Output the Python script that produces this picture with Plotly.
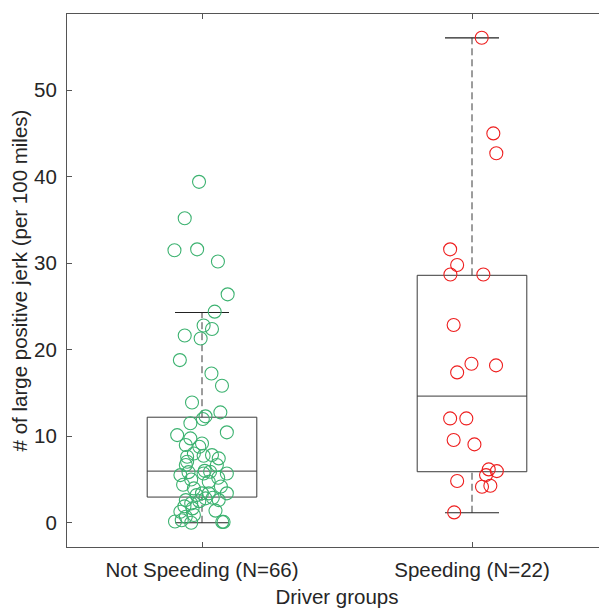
import plotly.graph_objects as go

# ---- data ----
groups = ["Not Speeding (N=66)", "Speeding (N=22)"]
group_pos = [1, 2]

# box statistics
q1 = [2.97, 5.9]
median = [5.97, 14.64]
q3 = [12.2, 28.6]
lower_whisker = [0.0, 1.16]
upper_whisker = [24.3, 56.05]

# Not Speeding: x position (jittered) and value
ns_x = [0.989, 0.936, 0.898, 0.982, 1.059, 1.095, 1.047, 1.006, 1.037, 0.936,
        0.995, 0.918, 1.035, 1.074, 0.963, 1.068, 1.013,
        1.003, 0.957, 1.092, 0.908, 0.957, 1.000, 0.940, 0.990, 0.945, 1.006,
        1.037, 1.062, 0.970, 0.945, 0.940, 1.055,
        0.920, 1.006, 1.030, 1.092, 1.025, 0.970, 1.000, 1.092, 1.025, 0.960,
        1.060, 0.930, 1.010, 0.950, 1.070, 0.980,
        0.940, 0.960, 1.062, 0.920, 0.940, 0.960, 1.075, 0.925, 1.013, 0.965,
        1.080, 0.990, 1.040, 0.935, 0.970, 1.050, 0.900]
ns_y = [39.4, 35.2, 31.5, 31.6, 30.2, 26.4, 24.4, 22.8, 22.4, 21.65,
        21.3, 18.8, 17.26, 15.83, 13.9, 12.76, 12.3,
        12.0, 11.5, 10.45, 10.13, 9.75, 9.17, 8.98, 8.78, 7.63, 7.74,
        7.82, 7.44, 8.0, 7.05, 6.67, 6.67,
        5.51, 5.7, 5.9, 5.7, 4.74, 3.97, 3.4, 3.4, 3.4, 5.0,
        5.2, 4.4, 6.0, 5.85, 4.2, 3.2,
        2.62, 2.24, 2.62, 1.27, 0.69, 0.0, 0.1, 0.3, 2.82, 1.66,
        0.1, 2.5, 2.9, 1.9, 0.9, 1.4, 0.15]

# Speeding
sp_x = [2.036, 2.079, 2.090, 1.919, 1.945, 1.920, 2.042, 1.932, 1.998, 1.945,
        2.089, 1.919, 1.979, 1.932, 2.009, 2.062, 2.092, 2.052, 1.945, 2.068,
        2.037, 1.934]
sp_y = [56.05, 45.0, 42.7, 31.6, 29.8, 28.7, 28.7, 22.85, 18.37, 17.38,
        18.19, 12.06, 12.06, 9.56, 9.06, 6.17, 5.97, 5.51, 4.82, 4.28,
        4.16, 1.2]

point_colors = ["rgb(60,178,112)", "rgb(238,30,30)"]
box_half = 0.203
cap_half = 0.1

fig = go.Figure()

box_color = "#3a3a3a"
for i, xc in enumerate(group_pos):
    # box outline
    fig.add_trace(go.Scatter(
        x=[xc - box_half, xc + box_half, xc + box_half, xc - box_half, xc - box_half],
        y=[q1[i], q1[i], q3[i], q3[i], q1[i]],
        mode="lines", line=dict(color=box_color, width=1), hoverinfo="skip", showlegend=False))
    # median
    fig.add_trace(go.Scatter(
        x=[xc - box_half, xc + box_half], y=[median[i], median[i]],
        mode="lines", line=dict(color=box_color, width=1), hoverinfo="skip", showlegend=False))
    # whiskers (dashed)
    fig.add_trace(go.Scatter(
        x=[xc, xc], y=[q3[i], upper_whisker[i]],
        mode="lines", line=dict(color=box_color, width=1, dash="7px,4px"), hoverinfo="skip", showlegend=False))
    fig.add_trace(go.Scatter(
        x=[xc, xc], y=[lower_whisker[i], q1[i]],
        mode="lines", line=dict(color=box_color, width=1, dash="7px,4px"), hoverinfo="skip", showlegend=False))
    # caps
    for v in (upper_whisker[i], lower_whisker[i]):
        fig.add_trace(go.Scatter(
            x=[xc - cap_half, xc + cap_half], y=[v, v],
            mode="lines", line=dict(color="#222222", width=1.2), hoverinfo="skip", showlegend=False))

for xs, ys, col in ((ns_x, ns_y, point_colors[0]), (sp_x, sp_y, point_colors[1])):
    fig.add_trace(go.Scatter(
        x=xs, y=ys, mode="markers",
        marker=dict(symbol="circle-open", size=13, color=col, line=dict(width=1.1, color=col)),
        showlegend=False))

font = "Liberation Sans, Arial, Helvetica, sans-serif"
fs = 20.5
# the page body adds an 8px margin, so the figure is 8px smaller than the window
fig.update_layout(
    width=599, height=601,
    margin=dict(l=59, r=0, t=6, b=62),
    paper_bgcolor="white", plot_bgcolor="white",
    font=dict(family=font, size=fs, color="#262626"),
    showlegend=False,
)
fig.update_xaxes(
    range=[0.5, 2.5], tickvals=group_pos, ticktext=groups,
    ticks="inside", ticklen=5, tickcolor="#555", mirror="ticks",
    showline=True, linecolor="#555", linewidth=1, showgrid=False, zeroline=False,
    title=dict(text="Driver groups", standoff=10, font=dict(size=fs)),
    tickfont=dict(size=fs), ticklabelstandoff=4,
)
fig.update_yaxes(
    range=[-2.8, 58.8], tickvals=[0, 10, 20, 30, 40, 50],
    ticks="inside", ticklen=5, tickcolor="#555", mirror="ticks",
    showline=True, linecolor="#555", linewidth=1, showgrid=False, zeroline=False,
    title=dict(text="# of large positive jerk (per 100 miles)", standoff=7, font=dict(size=fs)),
    tickfont=dict(size=fs), ticklabelstandoff=5,
)

fig.write_html("out.html")
